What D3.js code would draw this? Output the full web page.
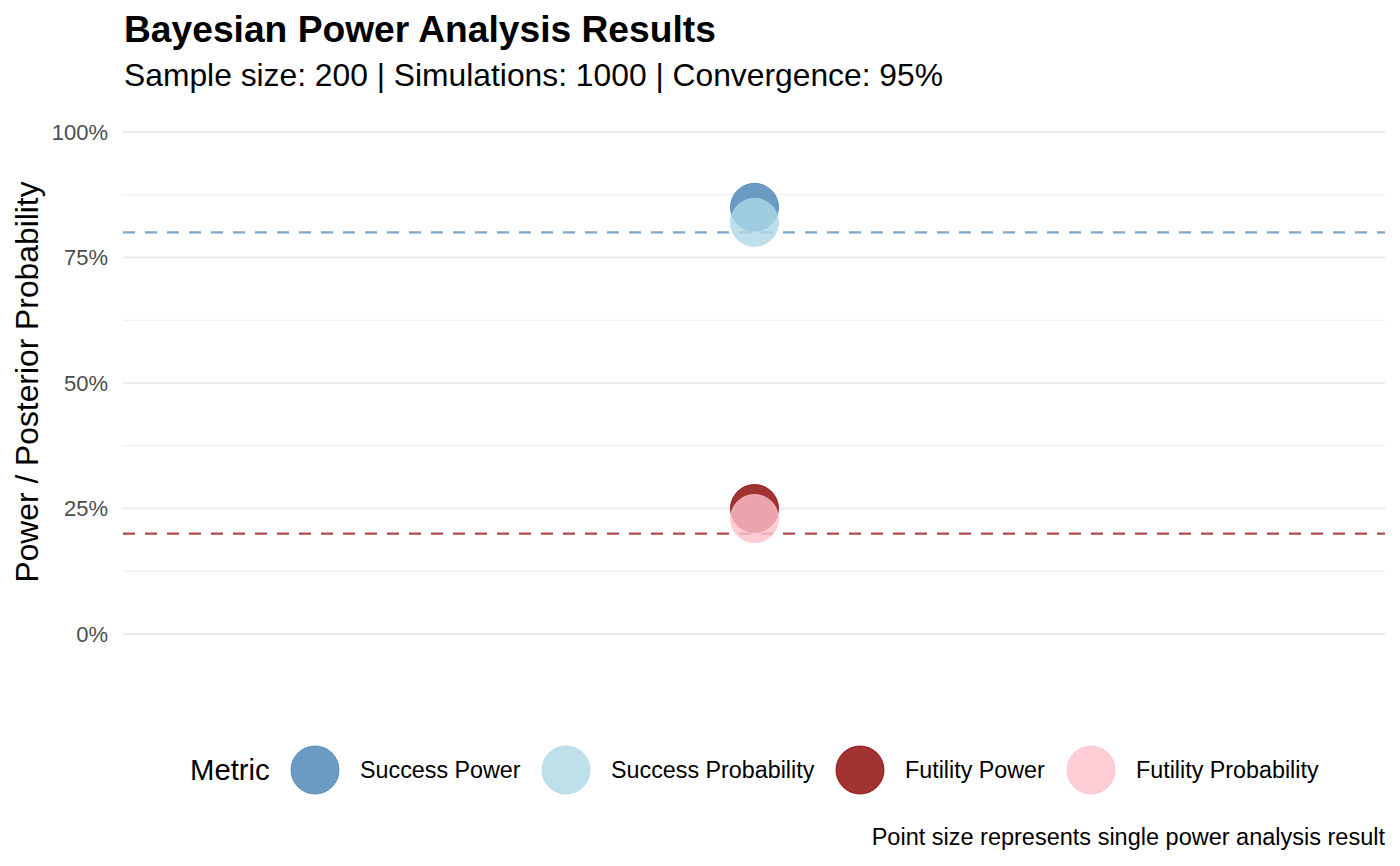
<!DOCTYPE html>
<html><head><meta charset="utf-8">
<script src="https://cdn.jsdelivr.net/npm/d3@7"></script>
<style>body{margin:0;background:#fff}svg{display:block;font-family:"Liberation Sans",Arial,sans-serif}</style>
</head><body>
<svg id="c" width="1400" height="866"></svg>
<script>
const metrics = ["Success Power","Success Probability","Futility Power","Futility Probability"];
const values = [0.85, 0.82, 0.25, 0.23];
const colors = ["#4682B4","#ADD8E6","#8B0000","#FFC0CB"];
const thresholds = [0.8, 0.2];
const thresholdColors = ["#4682B4","#8B0000"];
const yTicks = [0, 0.25, 0.5, 0.75, 1];
const yMinor = [0.125, 0.375, 0.625, 0.875];
const xCategory = ["Result"];

const svg = d3.select("#c");
const left = 123, right = 1385;
const y = d3.scaleLinear().domain([0,1]).range([634,132]);
const x = d3.scalePoint().domain(xCategory).range([left, right]).padding(0.5);

// grid
svg.append("g").selectAll("line").data(yMinor).join("line")
  .attr("x1", left).attr("x2", right).attr("y1", d=>y(d)).attr("y2", d=>y(d))
  .attr("stroke","#ebebeb").attr("stroke-width",1);
svg.append("g").selectAll("line").data(yTicks).join("line")
  .attr("x1", left).attr("x2", right).attr("y1", d=>y(d)).attr("y2", d=>y(d))
  .attr("stroke","#ebebeb").attr("stroke-width",2);

// axis labels
const ax = svg.append("g").attr("transform",`translate(${left},0)`)
  .call(d3.axisLeft(y).tickValues(yTicks).tickFormat(d3.format(".0%")).tickSize(0).tickPadding(15));
ax.select(".domain").remove();
ax.selectAll("text").attr("fill","#4d4d4d").style("font-size","22px").style("font-family","Liberation Sans, Arial, sans-serif");

// threshold lines
svg.append("g").selectAll("line").data(thresholds).join("line")
  .attr("x1", left).attr("x2", right).attr("y1", d=>y(d)).attr("y2", d=>y(d))
  .attr("stroke",(d,i)=>thresholdColors[i]).attr("stroke-opacity",0.7)
  .attr("stroke-width",2.2).attr("stroke-dasharray","12,10");

// points
svg.append("g").selectAll("circle").data(values).join("circle")
  .attr("cx", x("Result")+0.5).attr("cy", d=>y(d)).attr("r", 24)
  .attr("fill",(d,i)=>colors[i]).attr("fill-opacity",0.8)
  .attr("stroke",(d,i)=>colors[i]).attr("stroke-opacity",0.8).attr("stroke-width",1);

// titles
svg.append("text").attr("x",124).attr("y",42).text("Bayesian Power Analysis Results")
  .style("font-weight","bold").style("font-size","37.2px").attr("fill","#000");
svg.append("text").attr("x",124).attr("y",86).text("Sample size: 200 | Simulations: 1000 | Convergence: 95%")
  .style("font-size","31.8px").attr("fill","#000");
svg.append("text").attr("transform","translate(38,382) rotate(-90)").attr("text-anchor","middle")
  .text("Power / Posterior Probability").style("font-size","31.8px").attr("fill","#000");
svg.append("text").attr("x",1385).attr("y",845).attr("text-anchor","end")
  .text("Point size represents single power analysis result").style("font-size","23.5px").attr("fill","#000");

// legend
const lg = svg.append("g");
lg.append("text").attr("x",190).attr("y",780).text("Metric").style("font-size","29.3px").attr("fill","#000");
const lx = [315, 566, 860, 1091];
const items = lg.selectAll("g.item").data(metrics).join("g").attr("class","item")
  .attr("transform",(d,i)=>`translate(${lx[i]},770)`);
items.append("circle").attr("r",24).attr("fill",(d,i)=>colors[i]).attr("fill-opacity",0.8)
  .attr("stroke",(d,i)=>colors[i]).attr("stroke-opacity",0.8).attr("stroke-width",1);
items.append("text").attr("x",45).attr("y",8).text(d=>d).style("font-size","23.3px").attr("fill","#000");
</script>
</body></html>
